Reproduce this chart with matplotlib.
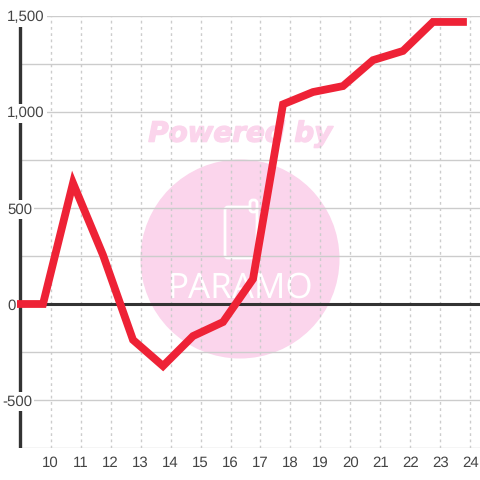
#!/usr/bin/env python3
import matplotlib
matplotlib.use("Agg")
import matplotlib.pyplot as plt
import matplotlib.patheffects as pe
from matplotlib.patches import Circle, FancyBboxPatch

plt.rcParams.update({
    "font.family": ["Liberation Sans", "DejaVu Sans"],
    "font.size": 10.7,
    "text.hinting": "none",
    "text.hinting_factor": 1
})

# hours, the first point sits outside the axis on the left
hours = [8.75, 9.75, 10.75, 11.75, 12.75, 13.75, 14.75, 15.75,
         16.75, 17.75, 18.75, 19.75, 20.75, 21.75, 22.75, 23.75]
values = [0, 0, 630, 255, -187, -323, -167, -94,
          130, 1040, 1104, 1135, 1270, 1318, 1469, 1469]

x_ticks = list(range(10, 25))
y_grid = [-750, -500, -250, 0, 250, 500, 750, 1000, 1250, 1500]
y_ticks = [-500, 0, 500, 1000, 1500]
y_labels = ["-500", "0", "500", "1,000", "1,500"]

RED = "#ee2236"
DARK = "#333333"
TEXT = "#444444"
PINK = "#fbd5ec"
GRID = "#cccccc"

X_LEFT = 8.883
X_AXIS = 8.983
X_RIGHT = 24.317

fig = plt.figure(figsize=(4.8, 4.8), dpi=100)
ax = fig.add_axes([17/480, 32/480, 463/480, 432/480])
ax.set_xlim(X_LEFT, X_RIGHT)
ax.set_ylim(-750, 1500)
ax.patch.set_alpha(0)

for s in ax.spines.values():
    s.set_visible(False)

# watermark sits below the chart, drawn in pixels
bg = fig.add_axes([0, 0, 1, 1], zorder=-1)
bg.set_xlim(0, 480)
bg.set_ylim(480, 0)
bg.axis("off")

bg.add_patch(Circle((240, 259), 99.5, color=PINK, lw=0))
bg.text(241, 134, "Powered by", color=PINK, fontsize=20, weight="bold",
        style="italic", ha="center", va="center", family="DejaVu Sans",
        path_effects=[pe.withStroke(linewidth=1, foreground=PINK)])
bg.add_patch(FancyBboxPatch((225, 207), 32, 51, boxstyle="round,pad=0,rounding_size=3",
                            fc="none", ec="white", lw=2))
bg.add_patch(FancyBboxPatch((250, 200), 7, 12, boxstyle="round,pad=0,rounding_size=3",
                            fc=PINK, ec="white", lw=2))
bg.text(240, 289, "PARAMO", color="white", fontsize=25, ha="center", va="center",
        family="Open Sans")

ax.set_xticks(x_ticks)
ax.set_yticks([])
ax.tick_params(length=0, labelsize=10.7, labelcolor=TEXT, pad=6)
ax.grid(axis="x", color=GRID, lw=1, ls=(0, (2, 2.5)), zorder=1)
ax.set_axisbelow(True)

ax.hlines(y_grid, X_AXIS, X_RIGHT, color=GRID, lw=1, zorder=1)
ax.hlines(0, X_AXIS, X_RIGHT, color=DARK, lw=2.2, zorder=2)
ax.vlines(X_AXIS, -750, 1500, color=DARK, lw=2.4, zorder=2)

ax.plot(hours, values, color=RED, lw=5.6, solid_joinstyle="miter",
        solid_capstyle="projecting", zorder=3)

for v, lab in zip(y_ticks, y_labels):
    offset = -15 if lab.startswith("-") else -10
    ax.annotate(lab, xy=(0, v), xycoords=("axes fraction", "data"), xytext=(offset, 0),
                textcoords="offset pixels", ha="left", va="center_baseline", color=TEXT,
                annotation_clip=False, zorder=2.5,
                bbox=dict(fc="white", ec="none", pad=1.5))

fig.savefig("out.png", dpi=100)
